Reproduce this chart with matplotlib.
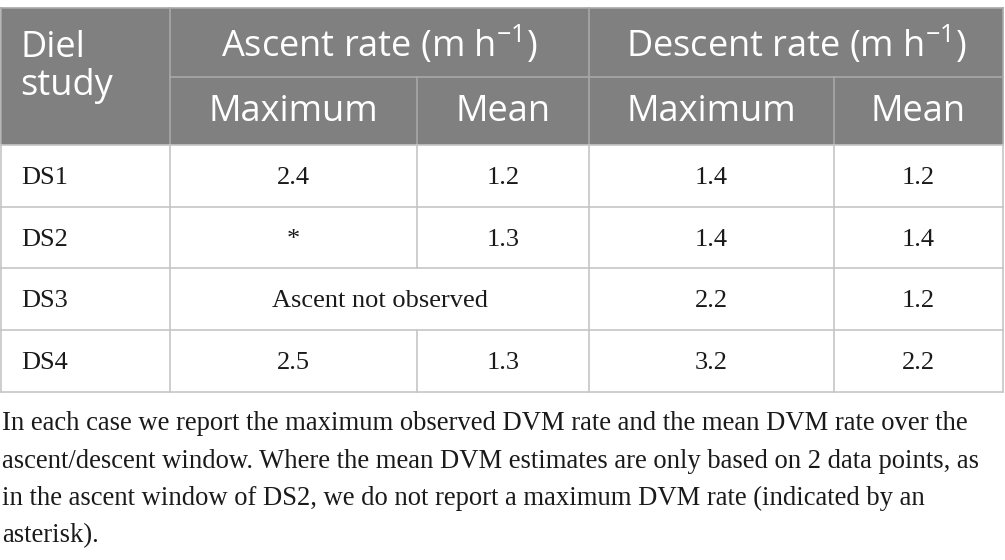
import matplotlib
matplotlib.use("Agg")
import matplotlib.pyplot as plt

# Table content
studies = ["DS1", "DS2", "DS3", "DS4"]
ascent_max = ["2.4", "*", None, "2.5"]
ascent_mean = ["1.2", "1.3", None, "1.3"]
descent_max = ["1.4", "1.4", "2.2", "3.2"]
descent_mean = ["1.2", "1.4", "1.2", "2.2"]
merged_note = {2: "Ascent not observed"}

group_labels = ["Ascent rate (m h$^{\\mathregular{\u22121}}$)",
                "Descent rate (m h$^{\\mathregular{\u22121}}$)"]
sub_labels = ["Maximum", "Mean", "Maximum", "Mean"]
first_col_label = "Diel\nstudy"

caption = ["In each case we report the maximum observed DVM rate and the mean DVM rate over the",
           "ascent/descent window. Where the mean DVM estimates are only based on 2 data points, as",
           "in the ascent window of DS2, we do not report a maximum DVM rate (indicated by an",
           "asterisk)."]

plt.rcParams["mathtext.fontset"] = "custom"
plt.rcParams["mathtext.rm"] = "Open Sans"

head_font = "Open Sans"
body_font = "Liberation Serif"
head_bg = "#808080"
head_line = "#a8a8a8"
body_line = "#c6c6c6"
text_col = "#1a1a1a"

# layout in pixels
col_x = [1, 170, 417, 589, 834, 1003]
top, mid, head_bot = 8, 76.5, 145
row_y = [145, 207, 268, 330, 392]

fig = plt.figure(figsize=(10.05, 5.6), dpi=100)
ax = fig.add_axes([0, 0, 1, 1])
ax.set_xlim(0, 1005)
ax.set_ylim(560, 0)
ax.axis("off")

# header background
ax.fill_between([col_x[0], col_x[-1]], top, head_bot, color=head_bg, lw=0)

# header lines
ax.plot([col_x[0], col_x[-1]], [top, top], color=head_line, lw=1.2)
ax.plot([col_x[1], col_x[-1]], [mid, mid], color=head_line, lw=1.2)
for x in [col_x[1], col_x[3]]:
    ax.plot([x, x], [top, head_bot], color=head_line, lw=1.2)
for x in [col_x[2], col_x[4]]:
    ax.plot([x, x], [mid, head_bot], color=head_line, lw=1.2)
for x in [col_x[0], col_x[-1]]:
    ax.plot([x, x], [top, head_bot], color=head_line, lw=1.2)

# header text
ax.text(20, 67, first_col_label, color="white", fontsize=26, family=head_font,
        ha="left", va="center", linespacing=1.05)
for k, lab in enumerate(group_labels):
    xc = (col_x[1 + 2 * k] + col_x[3 + 2 * k]) / 2
    ax.text(xc, 45, lab, color="white", fontsize=26, family=head_font,
            ha="center", va="center")
for k, lab in enumerate(sub_labels):
    xc = (col_x[1 + k] + col_x[2 + k]) / 2
    ax.text(xc, 112, lab, color="white", fontsize=26, family=head_font,
            ha="center", va="center")

# body grid
for y in row_y:
    ax.plot([col_x[0], col_x[-1]], [y, y], color=body_line, lw=1.2)
for j in range(len(studies)):
    y0, y1 = row_y[j], row_y[j + 1]
    for k, x in enumerate(col_x):
        if k == 2 and j in merged_note:
            continue
        ax.plot([x, x], [y0, y1], color=body_line, lw=1.2)

# body text
columns = [ascent_max, ascent_mean, descent_max, descent_mean]
for j, name in enumerate(studies):
    yc = (row_y[j] + row_y[j + 1]) / 2 + 2
    ax.text(21, yc, name, fontsize=19, family=body_font, color=text_col,
            ha="left", va="center")
    if j in merged_note:
        ax.text((col_x[1] + col_x[3]) / 2, yc, merged_note[j], fontsize=19,
                family=body_font, color=text_col, ha="center", va="center")
    for k, col in enumerate(columns):
        if col[j] is None:
            continue
        xc = (col_x[1 + k] + col_x[2 + k]) / 2
        ax.text(xc, yc, col[j], fontsize=19, family=body_font, color=text_col,
                ha="center", va="center")

# caption
for i, line in enumerate(caption):
    ax.text(2, 430 + 37.5 * i, line, fontsize=19.2, family=body_font,
            color=text_col, ha="left", va="baseline")

fig.savefig("out.png", dpi=100)
